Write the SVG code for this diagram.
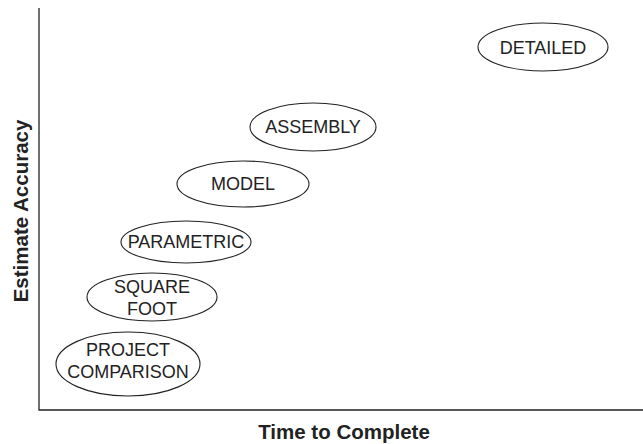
<svg xmlns="http://www.w3.org/2000/svg" width="643" height="444" viewBox="0 0 643 444">
  <style>
    .axis { stroke: #222; stroke-width: 1.3; fill: none; }
    .oval { fill: #fff; stroke: #222; stroke-width: 1.1; }
    .lbl { font-family: "Liberation Sans", Arial, sans-serif; font-size: 18px; fill: #222; text-anchor: middle; }
    .title { font-family: "Liberation Sans", Arial, sans-serif; font-size: 20.5px; font-weight: bold; fill: #222; text-anchor: middle; }
  </style>
  <rect width="643" height="444" fill="#fff"/>
  <g id="axes">
    <path class="axis" d="M39,8 V410 H643"/>
    <text class="title" x="344" y="439">Time to Complete</text>
    <text class="title" transform="translate(28,211) rotate(-90)">Estimate Accuracy</text>
  </g>
  <g id="connectors"></g>
  <g id="project-comparison">
    <ellipse class="oval" cx="128" cy="364" rx="72" ry="32"/>
    <text class="lbl" x="128" y="356">PROJECT</text>
    <text class="lbl" x="128" y="378">COMPARISON</text>
  </g>
  <g id="square-foot">
    <ellipse class="oval" cx="152" cy="297" rx="65" ry="24"/>
    <text class="lbl" x="152" y="293">SQUARE</text>
    <text class="lbl" x="152" y="315">FOOT</text>
  </g>
  <g id="parametric">
    <ellipse class="oval" cx="186" cy="242" rx="65" ry="21"/>
    <text class="lbl" x="186" y="248">PARAMETRIC</text>
  </g>
  <g id="model">
    <ellipse class="oval" cx="243" cy="184" rx="66" ry="23"/>
    <text class="lbl" x="243" y="190">MODEL</text>
  </g>
  <g id="assembly">
    <ellipse class="oval" cx="313" cy="127" rx="63" ry="24"/>
    <text class="lbl" x="313" y="133">ASSEMBLY</text>
  </g>
  <g id="detailed">
    <ellipse class="oval" cx="543" cy="47" rx="65" ry="24"/>
    <text class="lbl" x="543" y="54">DETAILED</text>
  </g>
</svg>
